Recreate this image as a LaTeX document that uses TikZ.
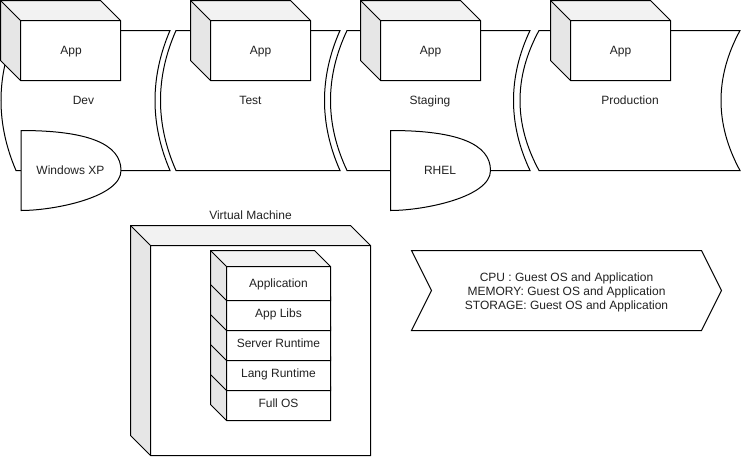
\documentclass[tikz,border=0pt]{standalone}
\usepackage{fontspec}
\setmainfont{Liberation Sans}
\definecolor{topgray}{HTML}{F2F2F2}
\definecolor{sidegray}{HTML}{E6E6E6}
\definecolor{txtcol}{HTML}{222222}
\tikzset{
  outl/.style={draw=black, line width=1pt, line join=miter},
  lbltext/.style={font=\fontsize{12}{14}\selectfont, text=txtcol, inner sep=0pt, align=center},
  lbl/.style={lbltext, text height=10.86pt, text depth=2.54pt},
}
% cube: x y w h s
\newcommand\isocube[5]{%
  \path[fill=white] (#1,#2) -- ({#1+#3-#5},#2) -- ({#1+#3},{#2+#5}) -- ({#1+#3},{#2+#4}) -- ({#1+#5},{#2+#4}) -- (#1,{#2+#4-#5}) -- cycle;
  \path[fill=topgray] (#1,#2) -- ({#1+#3-#5},#2) -- ({#1+#3},{#2+#5}) -- ({#1+#5},{#2+#5}) -- cycle;
  \path[fill=sidegray] (#1,#2) -- ({#1+#5},{#2+#5}) -- ({#1+#5},{#2+#4}) -- (#1,{#2+#4-#5}) -- cycle;
  \draw[outl] (#1,#2) -- ({#1+#3-#5},#2) -- ({#1+#3},{#2+#5}) -- ({#1+#3},{#2+#4}) -- ({#1+#5},{#2+#4}) -- (#1,{#2+#4-#5}) -- cycle;
  \draw[outl] (#1,#2) -- ({#1+#5},{#2+#5}) -- ({#1+#3},{#2+#5}) ({#1+#5},{#2+#5}) -- ({#1+#5},{#2+#4});
}
% stage (data storage): xL xR s
\newcommand\stageshape[3]{%
  \draw[outl, fill=white] (#1,30.5) -- (#2,30.5)
    .. controls ({#2-4*#3/3},77.17) and ({#2-4*#3/3},123.83) .. (#2,170.5)
    -- (#1,170.5)
    .. controls ({#1-4*#3/3},123.83) and ({#1-4*#3/3},77.17) .. (#1,30.5) -- cycle;
}
% OR shape: x y w h
\newcommand\orshape[4]{%
  \draw[outl, fill=white] (#1,#2) .. controls ({#1+2*#3/3},#2) and ({#1+#3},{#2+#4/6}) .. ({#1+#3},{#2+#4/2})
    .. controls ({#1+#3},{#2+5*#4/6}) and ({#1+#3/3},{#2+#4}) .. (#1,{#2+#4}) -- cycle;
}
\begin{document}
\begin{tikzpicture}[x=1pt,y=-1pt]
\useasboundingbox (0,0) rectangle (741,456);
% stages
\stageshape{16}{170}{15}
\stageshape{176}{340}{15.5}
\stageshape{347}{530}{16.5}
\stageshape{539}{740}{19}
% app cubes
\isocube{0.5}{0.5}{120}{80}{20}
\isocube{190.5}{0.5}{120}{80}{20}
\isocube{360.5}{0.5}{120}{80}{20}
\isocube{550.5}{0.5}{120}{80}{20}
% OS shapes
\orshape{21}{130.5}{100}{80}
\orshape{390.5}{130.5}{100}{80}
% VM cube
\isocube{130.5}{225.5}{240}{230}{20}
% stack
\isocube{210.5}{370.5}{120}{50}{16}
\isocube{210.5}{340.5}{120}{50}{16}
\isocube{210.5}{310.5}{120}{50}{16}
\isocube{210.5}{280.5}{120}{50}{16}
\isocube{210.5}{250.5}{120}{50}{16}
% chevron
\draw[outl, fill=white] (411.5,250.5) -- (701.5,250.5) -- (721.5,290.5) -- (701.5,330.5) -- (411.5,330.5) -- (431.5,290.5) -- cycle;
% texts
\node[lbl] (app1) at (71,50.5) {App};
\node[lbl] (app2) at (260.5,50.5) {App};
\node[lbl] (app3) at (430.5,50.5) {App};
\node[lbl] (app4) at (620.5,50.5) {App};
\node[lbl] (dev) at (83.5,100.5) {Dev};
\node[lbl] (test) at (250.5,100.5) {Test};
\node[lbl] (staging) at (430,100.5) {Staging};
\node[lbl] (prod) at (630,100.5) {Production};
\node[lbl] (winxp) at (70.5,170.5) {Windows XP};
\node[lbl] (rhel) at (440,170.5) {RHEL};
\node[lbl] (vm) at (250.5,215) {Virtual Machine};
\node[lbl] (l1) at (278.5,283.5) {Application};
\node[lbl] (l2) at (278.5,313.5) {App Libs};
\node[lbl] (l3) at (278.5,343.5) {Server Runtime};
\node[lbl] (l4) at (278.5,373.5) {Lang Runtime};
\node[lbl] (l5) at (278.5,403.5) {Full OS};
\node[lbltext] (cpu) at (566.5,292.5) {CPU : Guest OS and Application\\MEMORY: Guest OS and Application\\STORAGE: Guest OS and Application};
\end{tikzpicture}
\end{document}
